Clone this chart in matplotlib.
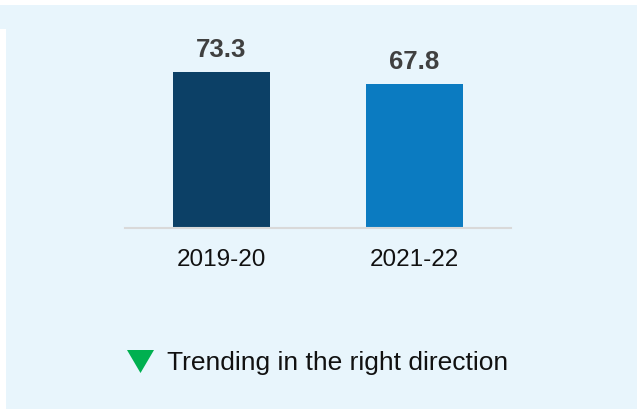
import matplotlib.pyplot as plt
from matplotlib.patches import Polygon, Rectangle

plt.rcParams['font.family'] = ['Liberation Sans', 'DejaVu Sans']

# chart data
periods = ['2019-20', '2021-22']
values = [73.3, 67.8]
bar_colors = ['#0c4066', '#0b7bc1']
legend_text = 'Trending in the right direction'

W, H = 637, 409
fig = plt.figure(figsize=(W / 100, H / 100), dpi=100)
fig.patch.set_facecolor('#e8f5fc')

# white margins at top and left of the panel
fig.patches.append(Rectangle((0, 1 - 5 / H), 1, 5 / H, transform=fig.transFigure,
                             facecolor='white', edgecolor='none', zorder=0))
fig.patches.append(Rectangle((0, 0), 6 / W, 1 - 29 / H, transform=fig.transFigure,
                             facecolor='white', edgecolor='none', zorder=0))

# axes: baseline at y=227.5 px, from x=125 to x=511
ax = fig.add_axes([125 / W, 1 - 227.5 / H, 386 / W, 212.1 / H])
ax.set_facecolor('none')

x = range(len(periods))
bars = ax.bar(x, values, width=0.5, color=bar_colors, zorder=2)
ax.set_xlim(-0.5, 1.5)
ax.set_ylim(0, 100)

for b, v in zip(bars, values):
    ax.annotate(f'{v:.1f}', (b.get_x() + b.get_width() / 2, v),
                xytext=(0, 7), textcoords='offset points',
                ha='center', va='bottom', fontsize=18.5, fontweight='bold',
                color='#404040')

for s in ['top', 'right', 'left']:
    ax.spines[s].set_visible(False)
ax.spines['bottom'].set_color('#d9d9d9')
ax.spines['bottom'].set_linewidth(1.5)
ax.set_yticks([])
ax.set_xticks(list(x))
ax.set_xticklabels(periods, fontsize=17.5, color='#111111')
ax.tick_params(axis='x', length=0, pad=15.5)

# legend: green down triangle + text
tri = Polygon([(127 / W, 1 - 350 / H), (154 / W, 1 - 350 / H), (140.5 / W, 1 - 373 / H)],
              closed=True, transform=fig.transFigure, facecolor='#00b050',
              edgecolor='none')
fig.patches.append(tri)
fig.text(167 / W, 1 - 363 / H, legend_text, fontsize=19, color='#111111',
         ha='left', va='center')

fig.savefig('out.png', dpi=100, facecolor=fig.get_facecolor())
